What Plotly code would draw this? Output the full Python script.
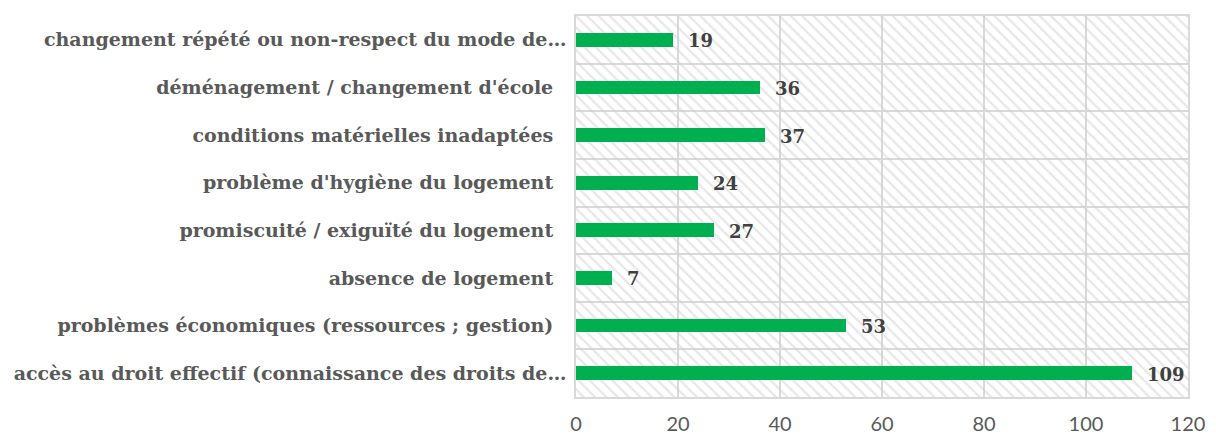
import plotly.graph_objects as go

categories = [
    "accès au droit effectif (connaissance des droits de…",
    "problèmes économiques (ressources ; gestion)",
    "absence de logement",
    "promiscuité / exiguïté du logement",
    "problème d'hygiène du logement",
    "conditions matérielles inadaptées",
    "déménagement / changement d'école",
    "changement répété ou non-respect du mode de…",
]
values = [109, 53, 7, 27, 24, 37, 36, 19]
x_ticks = [0, 20, 40, 60, 80, 100, 120]

GRID = "#d9d9d9"
ticktext = [c if c.endswith("…") else c + "\u00a0\u00a0" for c in categories]

fig = go.Figure()

# hatched plot-area background on hidden base axes
fig.add_trace(go.Bar(
    x=[1], y=[0.5], width=[1], orientation="h", base=0,
    xaxis="x", yaxis="y",
    marker=dict(color="rgba(0,0,0,0)", line=dict(width=0),
                pattern=dict(shape="\\", fgcolor="#d0d0d0", bgcolor="rgba(0,0,0,0)",
                             size=8, solidity=0.28, fillmode="overlay")),
    hoverinfo="skip", showlegend=False,
))

fig.add_trace(go.Bar(
    x=values, y=categories, orientation="h",
    xaxis="x2", yaxis="y2", width=0.29,
    marker=dict(color="#00B050", line=dict(width=0)),
    showlegend=False,
))

for c, v in zip(categories, values):
    fig.add_annotation(
        x=v, y=c, xref="x2", yref="y2", text=f"<b>{v}</b>",
        showarrow=False, xanchor="left", xshift=13, yshift=-1,
        font=dict(family="DejaVu Serif", size=18, color="#404040"),
    )

fig.update_layout(
    width=1208, height=435,
    margin=dict(l=566, r=28, t=6, b=46),
    paper_bgcolor="white", plot_bgcolor="white",
    bargap=0,
    xaxis=dict(range=[0, 1], visible=False, fixedrange=True),
    yaxis=dict(range=[0, 1], visible=False, fixedrange=True),
    xaxis2=dict(
        overlaying="x", side="bottom", anchor="y2",
        range=[0, 120], tickvals=x_ticks, showgrid=True, gridcolor=GRID, gridwidth=1.5,
        showline=True, linecolor=GRID, linewidth=1.5, mirror=True, zeroline=False,
        ticks="", tickfont=dict(family="Lato", size=20, color="#595959"),
        ticklabelstandoff=8,
    ),
    yaxis2=dict(
        overlaying="y", side="left", anchor="x2",
        type="category", categoryorder="array", categoryarray=categories,
        tickvals=categories, ticktext=[f"<b>{t}</b>" for t in ticktext],
        tickson="boundaries", showgrid=True, gridcolor=GRID, gridwidth=1.5,
        showline=True, linecolor=GRID, linewidth=1.5, mirror=True,
        ticks="", tickfont=dict(family="DejaVu Serif", size=19, color="#595959"),
        ticklabelstandoff=4,
    ),
)

fig.write_html("out.html")
